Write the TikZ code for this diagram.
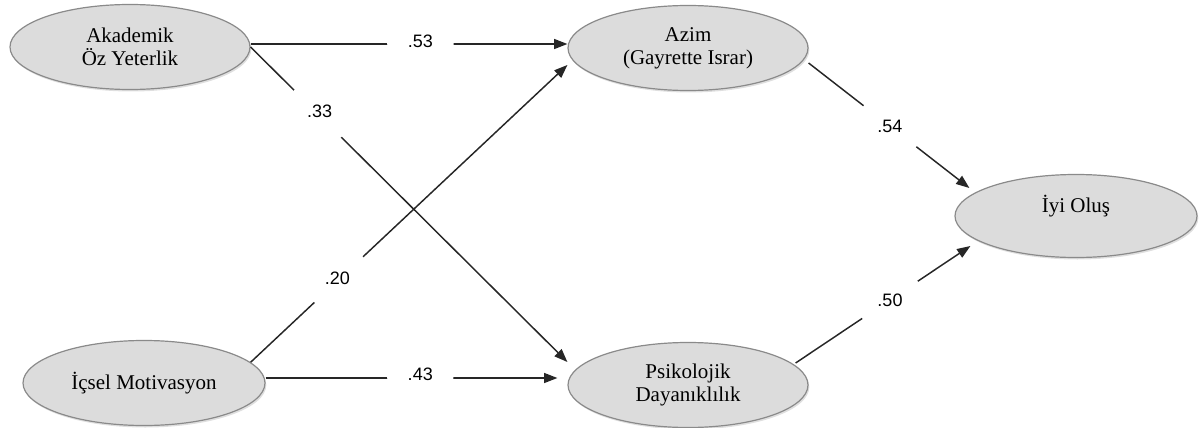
\documentclass[tikz,border=0pt]{standalone}
\usepackage{fontspec}
\setmainfont{Liberation Serif}
\newfontfamily\lblfont{Liberation Sans}
\usetikzlibrary{arrows.meta,shapes.geometric,shadows}
\definecolor{ellfill}{HTML}{DCDCDC}
\definecolor{elldraw}{HTML}{8A8A8A}
\definecolor{linec}{HTML}{262626}
\begin{document}
\begin{tikzpicture}[x=0.75pt,y=-0.75pt,
  ell/.style={ellipse, draw=elldraw, line width=0.9pt, fill=ellfill, inner sep=0pt,
    minimum width=180pt, minimum height=63.75pt, align=center,
    font=\fontsize{15.75}{17.25}\selectfont,
    drop shadow={shadow xshift=1pt, shadow yshift=-1.5pt, opacity=0.25}},
  conn/.style={draw=linec, line width=1.1pt, -{Triangle[length=10pt,width=7.5pt]}},
  lbl/.style={circle, fill=white, inner sep=0pt, minimum size=50pt,
    font=\lblfont\fontsize{13.5}{15}\selectfont}]
\useasboundingbox (0,0) rectangle (1203,428);

\node[ell] (ak) at (130,47) {Akademik\\Öz Yeterlik};
\node[ell] (az) at (688,48) {Azim\\(Gayrette Israr)};
\node[ell, minimum width=181.5pt] (ic) at (144,383) {İçsel Motivasyon};
\node[ell] (ps) at (688,385) {Psikolojik\\Dayanıklılık};
\node[ell, minimum width=181.5pt, minimum height=62.25pt, text depth=18pt] (iy) at (1076,216) {İyi Oluş};

\draw[conn] ([yshift=2.25pt]ak.east) -- node[lbl, pos=0.536, yshift=2.25pt] (l53) {.53} ([yshift=3pt]az.west);
\draw[conn] (ak.east) -- node[lbl, pos=0.218, yshift=3pt] (l33) {.33} ([yshift=17.25pt]ps.west);
\draw[conn] (ic.11) -- node[lbl, pos=0.274, yshift=2pt] (l20) {.20} ([yshift=-12.75pt]az.west);
\draw[conn] ([yshift=3.75pt]ic.east) -- node[lbl, pos=0.53, yshift=3pt] (l43) {.43} ([xshift=-7.5pt,yshift=5.25pt]ps.west);
\draw[conn] ([yshift=-11.25pt]az.east) -- node[lbl, pos=0.506] (l54) {.54} ([xshift=11.25pt,yshift=21pt]iy.west);
\draw[conn] ([xshift=-9.75pt,yshift=16.5pt]ps.east) -- node[lbl, pos=0.54] (l50) {.50} ([xshift=12pt,yshift=-22.5pt]iy.west);
\end{tikzpicture}
\end{document}
